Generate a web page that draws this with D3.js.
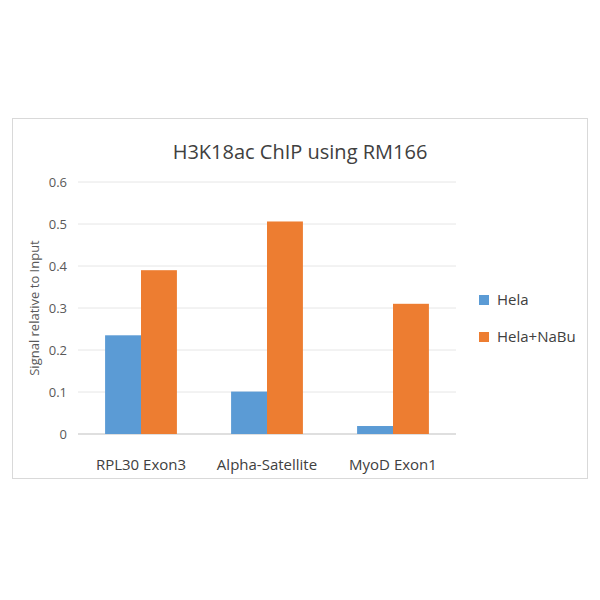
<!DOCTYPE html>
<html><head><meta charset="utf-8">
<script src="https://cdn.jsdelivr.net/npm/d3@7"></script>
<style>body{margin:0;background:#fff}</style></head>
<body><svg id="c" width="600" height="600"></svg>
<script>
const categories = ["RPL30 Exon3","Alpha-Satellite","MyoD Exon1"];
const seriesNames = ["Hela","Hela+NaBu"];
const hela = [0.235, 0.101, 0.019];
const helaNaBu = [0.39, 0.506, 0.31];
const yTicks = [0,0.1,0.2,0.3,0.4,0.5,0.6];
const colors = ["#5B9BD5","#ED7D31"];
const font = "'Open Sans', 'Liberation Sans', sans-serif";

const svg = d3.select("#c");
svg.append("rect").attr("x",12.5).attr("y",118.5).attr("width",575).attr("height",360)
  .attr("fill","#fff").attr("stroke","#d9d9d9");

const x = d3.scaleBand().domain(categories).range([78,456]).paddingInner(0.43).paddingOuter(0.215);
const xs = d3.scaleBand().domain(seriesNames).range([0,x.bandwidth()]);
const y = d3.scaleLinear().domain([0,0.6]).range([434,182]);

svg.append("g").selectAll("line").data(yTicks).join("line")
  .attr("x1",78).attr("x2",456).attr("y1",d=>y(d)).attr("y2",d=>y(d))
  .attr("stroke",(d)=>d===0?"#bfbfbf":"#e6e6e6");
svg.append("g").selectAll("text").data(yTicks).join("text")
  .attr("x",67).attr("y",d=>y(d)+5).attr("text-anchor","end")
  .attr("font-family",font).attr("font-size",13).attr("fill","#595959")
  .text(d=>d===0?"0":d.toFixed(1));

const data = [hela, helaNaBu];
data.forEach((vals,si)=>{
  svg.append("g").selectAll("rect").data(vals).join("rect")
    .attr("x",(d,i)=>x(categories[i])+xs(seriesNames[si]))
    .attr("width",xs.bandwidth())
    .attr("y",d=>y(d)).attr("height",d=>y(0)-y(d))
    .attr("fill",colors[si]);
});

svg.append("g").selectAll("text").data(categories).join("text")
  .attr("x",d=>x(d)+x.bandwidth()/2).attr("y",470).attr("text-anchor","middle")
  .attr("font-family",font).attr("font-size",15).attr("fill","#404040").text(d=>d);

svg.append("text").attr("x",300).attr("y",159).attr("text-anchor","middle")
  .attr("font-family",font).attr("font-size",20).attr("fill","#404040").text("H3K18ac ChIP using RM166");

svg.append("text").attr("transform","translate(39,308) rotate(-90)").attr("text-anchor","middle")
  .attr("font-family",font).attr("font-size",13).attr("fill","#595959").text("Signal relative to Input");

const leg = svg.append("g").selectAll("g").data(seriesNames).join("g")
  .attr("transform",(d,i)=>`translate(479,${300+i*37})`);
leg.append("rect").attr("x",0).attr("y",-5).attr("width",10).attr("height",10).attr("fill",(d,i)=>colors[i]);
leg.append("text").attr("x",18).attr("y",5).attr("font-family",font).attr("font-size",15)
  .attr("fill","#404040").text(d=>d);
</script></body></html>
